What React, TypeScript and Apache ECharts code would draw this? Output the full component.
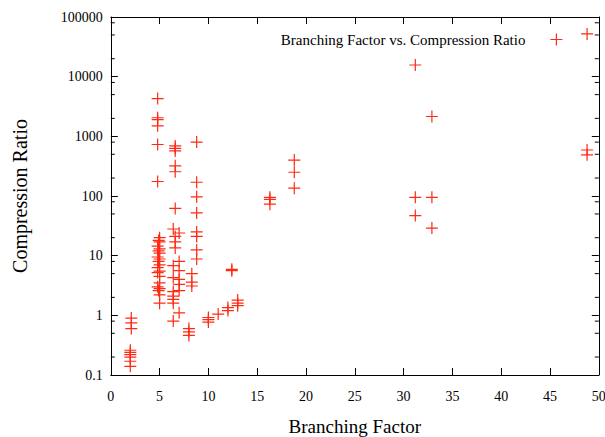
import React, { useEffect, useRef } from "react";
import * as echarts from "echarts";

const SERIES_NAME = "Branching Factor vs. Compression Ratio";
const X_NAME = "Branching Factor";
const Y_NAME = "Compression Ratio";

const branchingFactor = [
  2.1, 2.1, 2.1, 2, 2, 2, 2, 2, 2,
  4.8, 4.8, 4.8, 4.8, 4.8, 4.8,
  5, 4.9, 5, 4.8, 5, 4.9, 5, 4.8, 5, 4.9, 5, 4.8, 5, 4.8, 5, 5, 4.8, 5, 4.9, 5, 5,
  6.6, 6.6, 6.6, 6.6, 6.6,
  6.6, 6.4, 7.0, 6.6, 6.6, 6.6, 7.0, 6.4, 7.0, 6.4, 7.0, 7.0, 7.0, 6.4, 6.4, 6.4, 6.4, 7.0, 6.4,
  8.8, 8.8, 8.8, 8.8, 8.8, 8.8, 8.8, 8.8,
  8, 8, 8,
  8.3, 8.3, 8.3,
  10, 10, 10,
  11,
  12, 12,
  12.4, 12.4,
  13, 13, 13,
  16.3, 16.3, 16.3,
  18.8, 18.8, 18.8,
  31.2, 31.2, 31.2,
  32.9, 32.9, 32.9,
  48.8, 48.8, 48.8,
];

const compressionRatio = [
  0.9, 0.75, 0.6, 0.26, 0.24, 0.22, 0.2, 0.17, 0.14,
  4300, 2050, 1900, 1500, 730, 175,
  20, 18, 17, 14.5, 13, 12, 11, 9.5, 8.8, 8, 7, 6.3, 5.5, 5.2, 4.5, 3.5, 3, 2.8, 2.6, 2.2, 1.6,
  690, 630, 570, 320, 255,
  62, 28, 24, 21, 17, 13.5, 8, 6.8, 5.6, 4.3, 4.0, 3.3, 2.6, 2.5, 2.1, 1.85, 1.6, 1.1, 0.8,
  800, 170, 97, 52, 25, 21, 12.5, 8.8,
  0.6, 0.53, 0.46,
  5, 3.6, 3.1,
  0.92, 0.85, 0.77,
  1.05,
  1.35, 1.2,
  5.9, 5.6,
  1.8, 1.6, 1.45,
  95, 88, 73,
  400, 250, 135,
  15700, 95, 47,
  2150, 95, 29,
  52000, 590, 490,
];

const yTickLabels = ["0.1", "1", "10", "100", "1000", "10000", "100000"];
const yMinorTicks = [
  0.2, 0.5, 0.8, 2, 5, 8, 20, 50, 80, 200, 500, 800,
  2000, 5000, 8000, 20000, 50000, 80000,
];

const RED = "#ff2a14";
const INK = "#000";
const FONT = "Liberation Serif";

export default function App() {
  const ref = useRef<HTMLDivElement>(null);

  useEffect(() => {
    if (!ref.current) return;
    const chart = echarts.init(ref.current, undefined, { renderer: "svg" });

    const points = branchingFactor.map((x, i) => [x, compressionRatio[i]]);

    const axisCommon = {
      axisLine: { show: true, onZero: false, lineStyle: { color: INK, width: 1 } },
      axisTick: { show: true, inside: true, length: 7, lineStyle: { color: INK, width: 1 } },
      splitLine: { show: false },
    };

    chart.setOption({
      animation: false,
      backgroundColor: "#fff",
      grid: {
        left: 110.8,
        right: 6.2,
        top: 17,
        bottom: 62,
        containLabel: false,
        outerBoundsMode: "none",
      },
      legend: {
        show: true,
        data: [SERIES_NAME],
        right: 37,
        top: 27,
        align: "right",
        itemWidth: 12,
        itemHeight: 12,
        itemStyle: { color: "rgba(0,0,0,0)", borderColor: RED, borderWidth: 1.2 },
        textStyle: { fontFamily: FONT, fontSize: 15, color: INK, padding: [0, 20, 0, 0] },
      },
      xAxis: [
        {
          type: "value",
          min: 0,
          max: 50,
          interval: 5,
          position: "bottom",
          ...axisCommon,
          axisLabel: { margin: 14, fontFamily: FONT, fontSize: 14, color: INK },
          name: X_NAME,
          nameLocation: "middle",
          nameGap: 42,
          nameTextStyle: { fontFamily: FONT, fontSize: 19, color: INK },
        },
        {
          type: "value",
          min: 0,
          max: 50,
          interval: 5,
          position: "top",
          ...axisCommon,
          axisLabel: { show: false },
        },
      ],
      yAxis: [
        {
          type: "log",
          logBase: 10,
          min: 0.1,
          max: 100000,
          position: "left",
          ...axisCommon,
          axisLabel: {
            margin: 8,
            fontFamily: FONT,
            fontSize: 14,
            color: INK,
            formatter: (v: number) => yTickLabels[Math.round(Math.log10(v)) + 1] ?? "",
          },
          name: Y_NAME,
          nameLocation: "middle",
          nameGap: 81,
          nameTextStyle: { fontFamily: FONT, fontSize: 20, color: INK },
        },
        {
          type: "log",
          logBase: 10,
          min: 0.1,
          max: 100000,
          position: "right",
          ...axisCommon,
          axisLabel: { show: false },
        },
      ],
      series: [
        {
          type: "custom",
          name: "minor",
          silent: true,
          xAxisIndex: 0,
          yAxisIndex: 0,
          data: yMinorTicks.map((v) => [0, v]),
          renderItem: (_params: any, api: any) => {
            const v = api.value(1);
            const l = api.coord([0, v]);
            const r = api.coord([50, v]);
            const style = { stroke: INK, lineWidth: 1 };
            return {
              type: "group",
              children: [
                { type: "line", shape: { x1: l[0], y1: l[1], x2: l[0] + 4, y2: l[1] }, style },
                { type: "line", shape: { x1: r[0] - 4, y1: r[1], x2: r[0], y2: r[1] }, style },
              ],
            };
          },
          z: 1,
        },
        {
          type: "scatter",
          name: SERIES_NAME,
          xAxisIndex: 0,
          yAxisIndex: 0,
          data: points,
          symbol: "path://M0,6L12,6M6,0L6,12",
          symbolSize: 12,
          itemStyle: { color: "rgba(0,0,0,0)", borderColor: RED, borderWidth: 1.2, opacity: 1 },
          z: 3,
        },
      ],
    });

    return () => chart.dispose();
  }, []);

  return (
    <div
      ref={ref}
      style={{ position: "fixed", left: 0, top: 0, width: 605, height: 437, background: "#fff" }}
    />
  );
}
